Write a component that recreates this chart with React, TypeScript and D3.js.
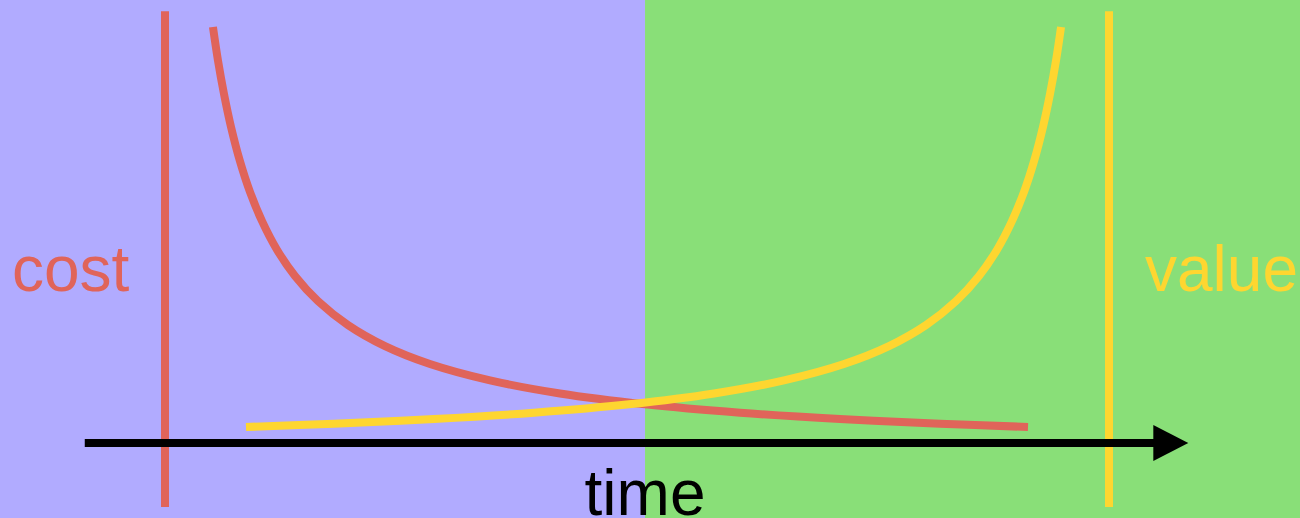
import React from 'react'
import { scaleLinear, line, curveCatmullRom } from 'd3'

// time runs 0..100 between the two vertical markers, level 0..100 from axis to top
const costTime = [5.08, 5.61, 6.25, 6.99, 7.94, 9.0, 10.28, 11.86, 13.77, 16.21, 19.39, 23.31, 28.07, 34.43, 41.84, 50.85, 60.91, 71.5, 82.1, 91.42]
const costLevel = [100, 91.97, 83.87, 75.99, 67.74, 60.36, 53.34, 46.47, 40.14, 34.09, 28.34, 23.29, 18.99, 15.05, 11.9, 9.3, 7.28, 5.77, 4.64, 3.85]

const valueTime = [8.58, 17.9, 28.5, 39.09, 49.15, 58.16, 65.57, 71.93, 76.69, 80.61, 83.79, 86.23, 88.14, 89.72, 91.0, 92.06, 93.01, 93.75, 94.39, 94.92]
const valueLevel = [3.85, 4.64, 5.77, 7.28, 9.3, 11.9, 15.05, 18.99, 23.29, 28.34, 34.09, 40.14, 46.47, 53.34, 60.36, 67.74, 75.99, 83.87, 91.97, 100]

const axisExtent = [-8.5, 108.4]
const markerExtent = [-15.4, 103.8]
const splitTime = 50.85

const labels = { x: 'time', left: 'cost', right: 'value' }

const W = 1300
const H = 518
const RED = '#e0645a'
const YELLOW = '#fed630'
const PURPLE = '#b1abff'
const GREEN = '#89df78'

export default function App() {
    const x = scaleLinear().domain([0, 100]).range([165, 1109])
    const y = scaleLinear().domain([0, 100]).range([443, 27])

    const costPts = costTime.map((t, i) => [t, costLevel[i]] as [number, number])
    const valuePts = valueTime.map((t, i) => [t, valueLevel[i]] as [number, number])

    const getLine = line<[number, number]>()
        .curve(curveCatmullRom.alpha(0.5))
        .x(d => x(d[0]))
        .y(d => y(d[1]))

    const ax0 = x(axisExtent[0])
    const ax1 = x(axisExtent[1])
    const headLen = 35
    const headHalf = 18
    const ay = y(0)

    return (
        <svg width={W} height={H} style={{ position: 'absolute', left: 0, top: 0, display: 'block' }}
            fontFamily="'Liberation Sans', Arial, sans-serif">
            <rect x={0} y={0} width={x(splitTime)} height={H} fill={PURPLE} />
            <rect x={x(splitTime)} y={0} width={W - x(splitTime)} height={H} fill={GREEN} />

            {/* marker lines */}
            <line x1={x(0)} x2={x(0)} y1={y(markerExtent[1])} y2={y(markerExtent[0])} stroke={RED} strokeWidth={8} />
            <line x1={x(100)} x2={x(100)} y1={y(markerExtent[1])} y2={y(markerExtent[0])} stroke={YELLOW} strokeWidth={8} />

            {/* time axis with arrow */}
            <line x1={ax0} x2={ax1 - headLen + 1} y1={ay} y2={ay} stroke="#000" strokeWidth={8} />
            <path d={`M${ax1 - headLen},${ay - headHalf}L${ax1},${ay}L${ax1 - headLen},${ay + headHalf}Z`} fill="#000" />

            <path d={getLine(costPts) ?? ''} fill="none" stroke={RED} strokeWidth={8} />
            <path d={getLine(valuePts) ?? ''} fill="none" stroke={YELLOW} strokeWidth={8} />

            <text x={12} y={291} fontSize={64} fill={RED}>{labels.left}</text>
            <text x={1145} y={291} fontSize={64} fill={YELLOW}>{labels.right}</text>
            <text x={x(splitTime)} y={515} fontSize={64} fill="#000" textAnchor="middle">{labels.x}</text>
        </svg>
    )
}
